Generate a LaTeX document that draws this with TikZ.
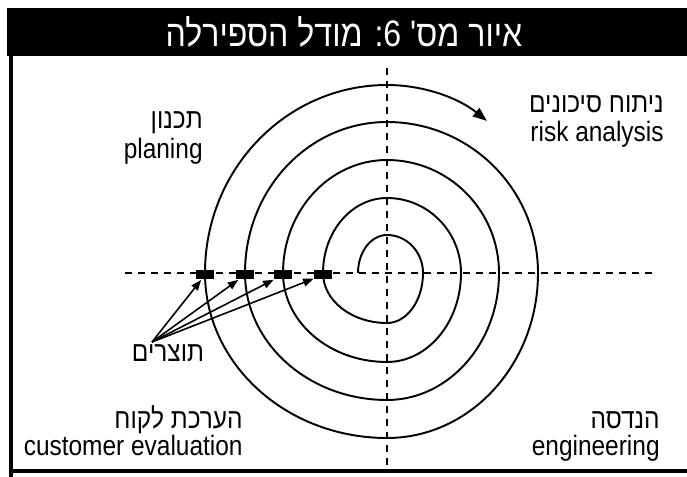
\documentclass[tikz,border=0pt]{standalone}
\usepackage{fontspec}
\setmainfont{Liberation Sans}[FakeStretch=0.87]
\newfontfamily\hebfont[Script=Hebrew, FakeStretch=0.87]{Liberation Sans}
\TeXXeTstate=1
\usetikzlibrary{arrows.meta,positioning}
\tikzset{
  titletext/.style={anchor=base, inner sep=0pt, text=white,
    font=\fontsize{21}{24}\selectfont},
  quadlabel/.style={anchor=base east, inner sep=0pt,
    font=\fontsize{16}{18}\selectfont},
  axisline/.style={line width=1.1pt, dash pattern=on 4pt off 3.4pt},
  spiral/.style={line width=1.1pt},
  product/.style={fill=black, minimum width=0.36cm,
    minimum height=0.18cm, inner sep=0pt},
  arr/.style={-{Triangle[length=6pt,width=4.5pt]}, line width=0.9pt},
}
\newcommand{\heb}[1]{{\hebfont\beginR #1\endR}}

\begin{document}
\begin{tikzpicture}[x=0.02cm, y=0.02cm]
  \useasboundingbox (0,0) rectangle (687,477);

  % Frame and title bar
  \fill (7,421) rectangle (687,469);
  \draw[line width=2.8pt] (11,421) -- (11,0);
  \draw[line width=2.8pt] (11,6) -- (687,6);
  \node[titletext] (title) at (344,430) {\heb{איור מס' 6: מודל הספירלה}};

  % Axes
  \coordinate (c) at (387,204);
  \draw[axisline] (387,409) -- (387,7);
  \draw[axisline] (125,204) -- (655,204);

  % Spiral, quarter by quarter
  \draw[spiral, -{Triangle[length=8pt,width=6pt]}] (358,204)
    \foreach \s/\rx/\ry in {180/29/38, 90/36/38, 0/36/50, -90/64/50,
      180/64/75, 90/74/75, 0/74/89, -90/104/89,
      180/104/113, 90/112/113, 0/112/127, -90/142/127,
      180/142/151, 90/151/151, 0/151/165, -90/182/165,
      180/182/188}
    { arc[start angle=\s, end angle=\s-90, x radius=\rx, y radius=\ry] }
    arc[start angle=90, end angle=54, x radius=170, y radius=188];

  % Products
  \node[product] (p1) at (205,202) {};
  \node[product] (p2) at (245,202) {};
  \node[product] (p3) at (283,202) {};
  \node[product] (p4) at (323,202) {};
  \coordinate (src) at (152,135);
  \foreach \m in {p1,p2,p3,p4}
    \draw[arr] (src) -- (\m);
  \node[quadlabel, anchor=base] (prodlbl) at (168,115) {\heb{תוצרים}};

  % Quadrant labels
  \node[quadlabel] (riskheb) at (664,364) {\heb{ניתוח סיכונים}};
  \node[quadlabel] (risken) at (664,335) {risk analysis};
  \node[quadlabel] (planheb) at (203,348) {\heb{תכנון}};
  \node[quadlabel] (planen) at (203,318) {planing};
  \node[quadlabel] (custheb) at (243,48) {\heb{הערכת לקוח}};
  \node[quadlabel] (custen) at (243,21) {customer evaluation};
  \node[quadlabel] (engheb) at (660,48) {\heb{הנדסה}};
  \node[quadlabel] (engen) at (660,21) {engineering};
\end{tikzpicture}
\end{document}
